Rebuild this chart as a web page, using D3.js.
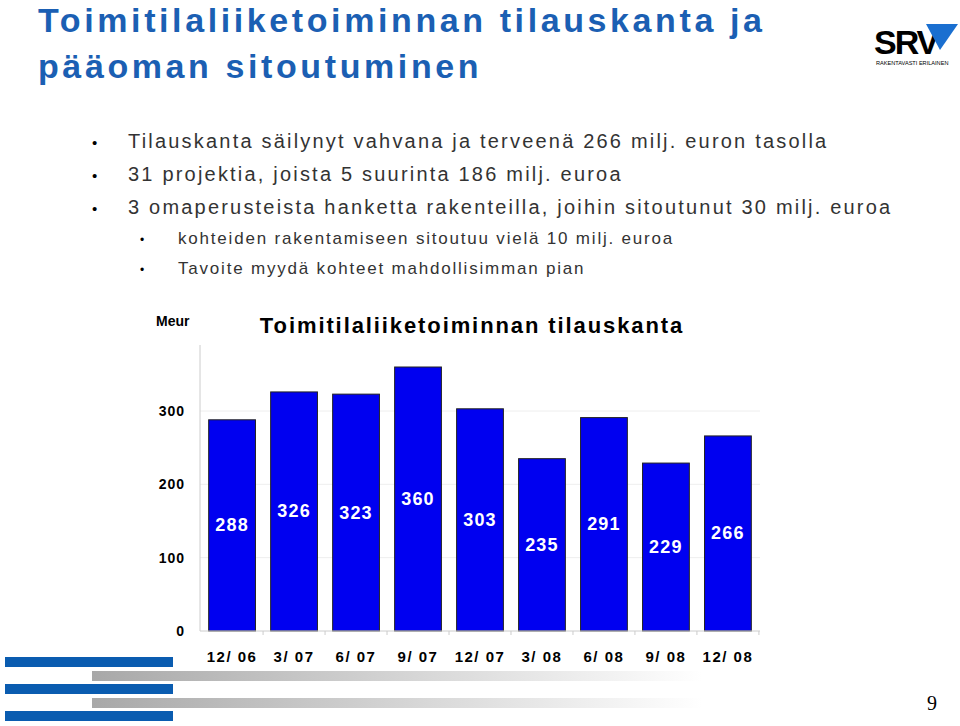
<!DOCTYPE html><html><head><meta charset="utf-8"><script src="https://cdn.jsdelivr.net/npm/d3@7"></script>
<style>body{margin:0;background:#fff}</style></head><body><svg id="c" width="960" height="726"></svg>
<script>
const categories=["12/06","3/07","6/07","9/07","12/07","3/08","6/08","9/08","12/08"];
const values=[288,326,323,360,303,235,291,229,266];
const yTicks=[0,100,200,300];
const bullets=["Tilauskanta säilynyt vahvana ja terveenä 266 milj. euron tasolla","31 projektia, joista 5 suurinta 186 milj. euroa","3 omaperusteista hanketta rakenteilla, joihin sitoutunut 30 milj. euroa"];
const subBullets=["kohteiden rakentamiseen sitoutuu vielä 10 milj. euroa","Tavoite myydä kohteet mahdollisimman pian"];
const svg=d3.select("#c"),F="Liberation Sans, Arial, sans-serif";
[[5,657,168],[5,684,168],[5,711,168]].forEach(d=>svg.append("rect").attr("x",d[0]).attr("y",d[1]).attr("width",d[2]).attr("height",10).attr("fill","#0a5cb0"));
const g=svg.append("defs").append("linearGradient").attr("id","gr");
g.append("stop").attr("offset","0").attr("stop-color","#a8a8a8");g.append("stop").attr("offset","1").attr("stop-color","#fff");
[671,698].forEach(y=>svg.append("rect").attr("x",92).attr("y",y).attr("width",610).attr("height",10).attr("fill","url(#gr)"));
svg.append("text").attr("x",932).attr("y",710).attr("text-anchor","middle").attr("font-family","Liberation Serif, serif").attr("font-size",20).text("9");
svg.append("text").attr("x",38).attr("y",32).attr("fill","#1b5fb3").attr("font-family",F).attr("font-weight","bold").attr("font-size",34).attr("letter-spacing",3.6).text("Toimitilaliiketoiminnan tilauskanta ja");
svg.append("text").attr("x",38).attr("y",78).attr("fill","#1b5fb3").attr("font-family",F).attr("font-weight","bold").attr("font-size",34).attr("letter-spacing",3.6).text("pääoman sitoutuminen");
svg.append("text").attr("x",874).attr("y",54).attr("font-family",F).attr("font-weight","bold").attr("font-size",34).attr("letter-spacing",-2).text("SRV");
svg.append("path").attr("d","M926,24 L958,24 L940,50 Z").attr("fill","#1a6fd0");
svg.append("text").attr("x",876).attr("y",65).attr("font-family",F).attr("font-size",5.6).text("RAKENTAVASTI ERILAINEN");
bullets.forEach((t,i)=>{const y=148+i*33;
 svg.append("text").attr("x",92).attr("y",y).attr("font-family",F).attr("font-size",15).text("•");
 svg.append("text").attr("x",128).attr("y",y).attr("font-family",F).attr("font-size",20).attr("fill","#333").attr("letter-spacing",2.2).text(t);});
subBullets.forEach((t,i)=>{const y=244+i*30;
 svg.append("text").attr("x",140).attr("y",y).attr("font-family",F).attr("font-size",12).text("•");
 svg.append("text").attr("x",178).attr("y",y).attr("font-family",F).attr("font-size",17).attr("fill","#333").attr("letter-spacing",1.8).text(t);});
svg.append("text").attr("x",156).attr("y",326).attr("font-family",F).attr("font-weight","bold").attr("font-size",14).text("Meur");
svg.append("text").attr("x",472).attr("y",333).attr("text-anchor","middle").attr("font-family",F).attr("font-weight","bold").attr("font-size",22).attr("letter-spacing",1.9).text("Toimitilaliiketoiminnan tilauskanta");
const x=d3.scaleBand().domain(categories).range([200,760]).paddingInner(0.245).paddingOuter(0.14);
const y=d3.scaleLinear().domain([0,390]).range([631,345]);
yTicks.filter(v=>v>0).forEach(v=>svg.append("line").attr("x1",200).attr("x2",760).attr("y1",y(v)).attr("y2",y(v)).attr("stroke","#eeeeee"));
svg.append("g").selectAll("rect").data(values).join("rect").attr("x",(d,i)=>x(categories[i])).attr("y",d=>y(d)).attr("width",x.bandwidth()).attr("height",d=>y(0)-y(d)).attr("fill","#0000f0").attr("stroke","#222").attr("stroke-width",1);
svg.append("line").attr("x1",200).attr("x2",200).attr("y1",345).attr("y2",631).attr("stroke","#ccc");
svg.append("line").attr("x1",200).attr("x2",760).attr("y1",631).attr("y2",631).attr("stroke","#ccc");
categories.forEach((c,i)=>{const cx=x(c)+x.bandwidth()/2;
 svg.append("line").attr("x1",cx+x.step()/2).attr("x2",cx+x.step()/2).attr("y1",631).attr("y2",635).attr("stroke","#ccc");
 svg.append("text").attr("x",cx).attr("y",662).attr("text-anchor","middle").attr("font-family",F).attr("font-weight","bold").attr("font-size",15).attr("letter-spacing",1.5).text(c.replace("/","/ "));
 svg.append("text").attr("x",cx).attr("y",y(values[i]/2)+6).attr("text-anchor","middle").attr("fill","#fff").attr("font-family",F).attr("font-weight","bold").attr("font-size",18).attr("letter-spacing",1.2).text(values[i]);});
yTicks.forEach(v=>svg.append("text").attr("x",185).attr("y",y(v)+5).attr("text-anchor","end").attr("font-family",F).attr("font-weight","bold").attr("font-size",14).attr("letter-spacing",1).text(v));
</script></body></html>
